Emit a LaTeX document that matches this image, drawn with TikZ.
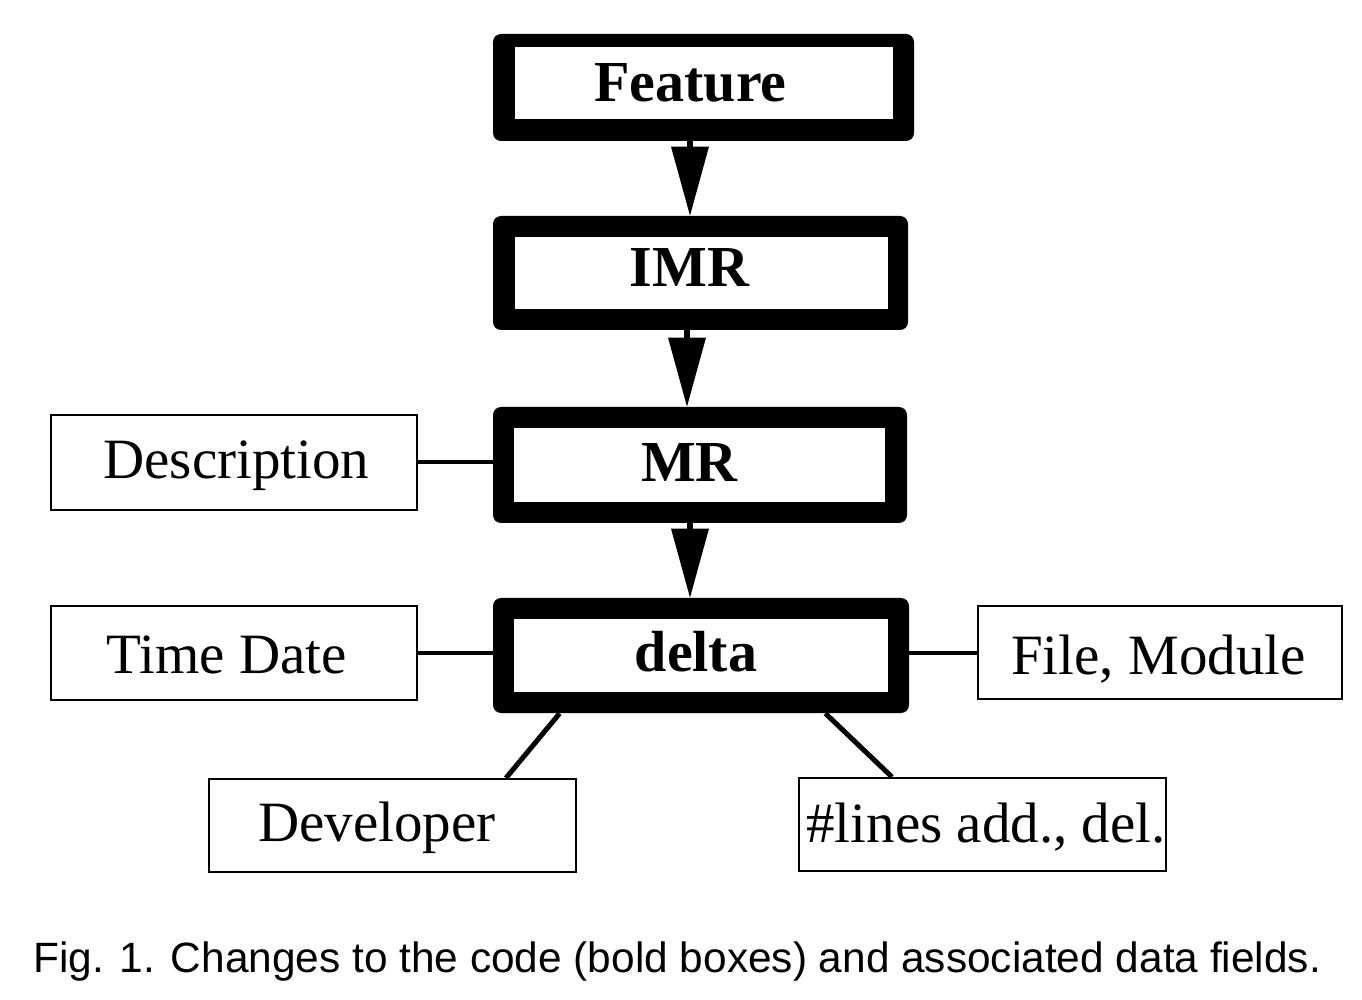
\documentclass[tikz,border=0pt]{standalone}
\usepackage{fontspec}
\setmainfont{Liberation Serif}
\newfontfamily\capfont{Liberation Sans}
\usetikzlibrary{arrows.meta}
\tikzset{
  boldouter/.style={rectangle, fill=black, draw=none, rounded corners=4pt, inner sep=0pt},
  boldinner/.style={rectangle, fill=white, draw=none, inner sep=0pt},
  thinbox/.style={rectangle, draw=black, line width=1pt, fill=white, inner sep=0pt},
  boldtxt/.style={anchor=base, inner sep=0pt, font=\fontsize{29pt}{34pt}\selectfont\bfseries},
  plaintxt/.style={anchor=base, inner sep=0pt, font=\fontsize{28.5pt}{34pt}\selectfont},
  flowarrow/.style={line width=3pt, -{Triangle[width=19pt, length=34.5pt, line width=0pt]}},
  link/.style={line width=2pt},
  diag/.style={line width=2.5pt}
}
\begin{document}
\begin{tikzpicture}[x=0.5pt, y=-0.5pt]
\useasboundingbox (0,0) rectangle (1362,1000);
% bold boxes
\node[boldouter, minimum width=210.5pt, minimum height=53.5pt] (feature) at (703.5,87.5) {};
\node[boldinner, minimum width=189pt, minimum height=36pt] (featurein) at (704,83) {};
\node[boldtxt] (featuret) at (690.5,101.5) {Feature};

\node[boldouter, minimum width=207.5pt, minimum height=57pt] (imr) at (700.5,273) {};
\node[boldinner, minimum width=186.5pt, minimum height=36pt] (imrin) at (701.5,273) {};
\node[boldtxt] (imrt) at (689.5,287) {IMR};

\node[boldouter, minimum width=207pt, minimum height=58pt] (mr) at (700,465) {};
\node[boldinner, minimum width=185.5pt, minimum height=37pt] (mrin) at (699.5,465) {};
\node[boldtxt] (mrt) at (689.5,482) {MR};

\node[boldouter, minimum width=208pt, minimum height=57.5pt] (delta) at (701,655.5) {};
\node[boldinner, minimum width=187pt, minimum height=36.5pt] (deltain) at (701,655.5) {};
\node[boldtxt] (deltat) at (696,671) {delta};

% thin boxes
\node[thinbox, minimum width=183pt, minimum height=47.5pt] (desc) at (234,462.5) {};
\node[plaintxt] (desct) at (236.5,479) {Description};

\node[thinbox, minimum width=183pt, minimum height=47pt] (time) at (234,653) {};
\node[plaintxt] (timet) at (227,673) {Time Date};

\node[thinbox, minimum width=182pt, minimum height=46.5pt] (file) at (1159.5,652.5) {};
\node[plaintxt] (filet) at (1158.5,675) {File, Module};

\node[thinbox, minimum width=183.5pt, minimum height=46.5pt] (dev) at (392.5,825.5) {};
\node[plaintxt] (devt) at (377,841) {Developer};

\node[thinbox, minimum width=183.5pt, minimum height=46.5pt] (lines) at (982.5,824.5) {};
\node[plaintxt] (linest) at (986,842) {\#lines add., del.};

% arrows
\draw[flowarrow] ([xshift=-6.75pt]feature.south) -- ([xshift=-6.75pt]feature.south |- imr.north);
\draw[flowarrow] ([xshift=-6.75pt]imr.south) -- ([xshift=-6.75pt]imr.south |- mr.north);
\draw[flowarrow] ([xshift=-5pt]mr.south) -- ([xshift=-5pt]mr.south |- delta.north);

% links
\draw[link] (desc.east) -- (mr.west |- desc.east);
\draw[link] (time.east) -- (delta.west |- time.east);
\draw[link] (delta.east |- file.west) -- (file.west);
\draw[diag] ([xshift=33.5pt]delta.south west) -- ([xshift=56.75pt]dev.north);
\draw[diag] ([xshift=-42pt]delta.south east) -- ([xshift=-45.25pt]lines.north);

% caption
\node[anchor=base west, inner sep=0pt, font=\capfont\fontsize{21.2pt}{25pt}\selectfont] (caption) at (33,972)
  {Fig. 1. Changes to the code (bold boxes) and associated data fields.};
\end{tikzpicture}
\end{document}
